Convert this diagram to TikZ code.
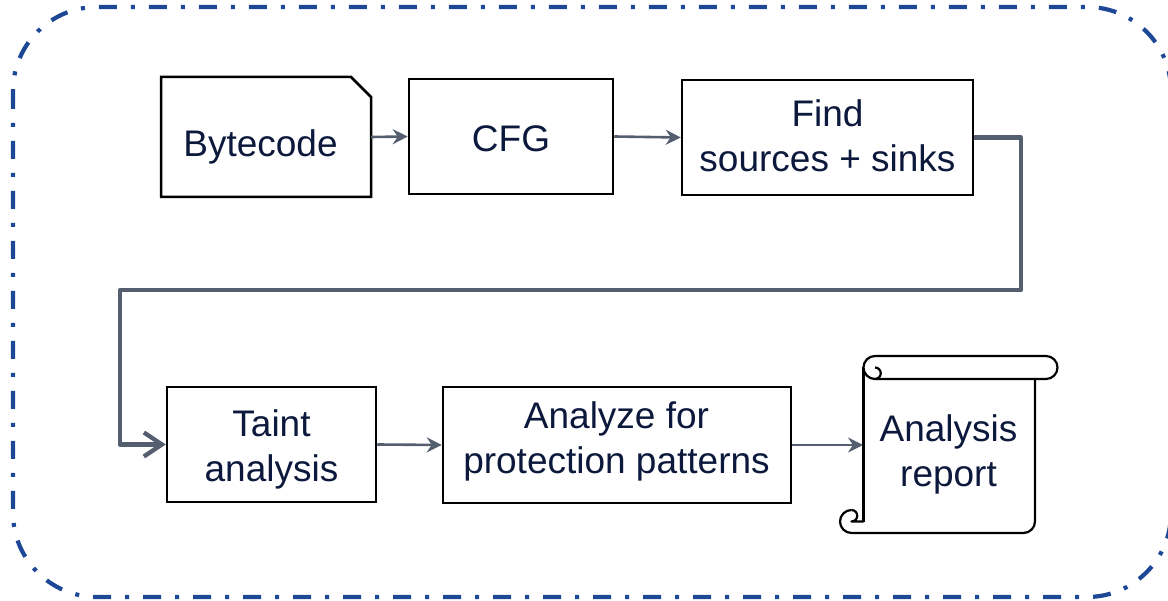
\documentclass[tikz,border=0pt]{standalone}
\usepackage{fontspec}
\setmainfont{Liberation Sans}
\usetikzlibrary{arrows.meta}
\definecolor{frameblue}{RGB}{28,72,150}
\definecolor{linkgray}{RGB}{84,94,110}
\definecolor{inkblue}{RGB}{12,25,60}

\begin{document}
\begin{tikzpicture}[x=1pt,y=1pt,
  box/.style={draw=black,line width=2.5pt,inner sep=0pt},
  shapeonly/.style={inner sep=0pt,outer sep=0pt},
  boxline/.style={draw=black,line width=2.5pt,line join=miter},
  scrollline/.style={draw=black,line width=2.2pt,line join=round},
  txt/.style={text=inkblue,font=\fontsize{37}{45}\selectfont,align=center,inner sep=0pt},
  link/.style={draw=linkgray,line width=2.6pt,-{Stealth[length=15pt,width=15pt,inset=5pt]}},
  biglink/.style={draw=linkgray,line width=4.3pt,line join=round,-{Straight Barb[length=18pt,width=24pt]}},
  frame/.style={draw=frameblue,line width=4.2pt,dash pattern=on 18pt off 14pt on 4pt off 14pt,rounded corners=84pt}]

\useasboundingbox (0,0) rectangle (1168,-601);

% dash-dot frame round the whole pipeline
\draw[frame] (13,-7) rectangle (1171,-597);

% first row
\node[shapeonly,minimum width=210pt,minimum height=120pt] (byte) at (266,-137) {};
\draw[boxline] (byte.south west) -- (byte.north west) -- ([xshift=-20pt]byte.north east)
  -- ([yshift=-20pt]byte.north east) -- (byte.south east) -- cycle;
\node[txt] (byte-t) at (260.5,-148) {\strut Bytecode};

\node[box,minimum width=204pt,minimum height=115pt] (cfg) at (511,-136.5) {};
\node[txt] (cfg-t) at (511,-143) {\strut CFG};

\node[box,minimum width=291pt,minimum height=115pt] (find) at (827.5,-137.5) {};
\node[txt] (find-t) at (827.5,-140.5) {\strut Find\\\strut sources + sinks};

% second row
\node[box,minimum width=209pt,minimum height=115pt] (taint) at (271.5,-444.5) {};
\node[txt] (taint-t) at (271.5,-450.5) {\strut Taint\\\strut analysis};

\node[box,minimum width=348pt,minimum height=116pt] (anl) at (617,-445) {};
\node[txt] (anl-t) at (616.5,-442.5) {\strut Analyze for\\\strut protection patterns};

% report scroll
\node[shapeonly,minimum width=172pt,minimum height=154pt] (rep) at (949,-456) {};
\draw[scrollline] (863.5,-367.5) -- (863.5,-521.5);
\draw[scrollline,fill=white] (875,-379) arc[start angle=270,end angle=90,radius=11.5]
  -- (1046,-356) arc[start angle=90,end angle=-90,radius=11.5] -- cycle;
\draw[scrollline] (875,-367.5) arc[start angle=90,end angle=-90,radius=5.75];
\draw[scrollline] (851.5,-510) arc[start angle=90,end angle=270,radius=11.5]
  -- (1023.5,-533) arc[start angle=-90,end angle=0,radius=11.5] -- (1035,-379);
\draw[scrollline] (851.5,-510) arc[start angle=90,end angle=-90,radius=5.75] -- (863.5,-521.5);
\node[txt] (rep-t) at (948.5,-455.5) {\strut Analysis\\\strut report};

% connectors
\coordinate (bend1) at (1021,-290);
\coordinate (bend2) at (120,-290);
\draw[link] (byte.east) -- (cfg.west);
\draw[link] (cfg.east) -- (find.west);
\draw[biglink] (find.east) -| (bend1) -- (bend2) |- (taint.west);
\draw[link] (taint.east) -- (anl.west);
\draw[link] (anl.east) -- (anl.east -| rep.west);
\end{tikzpicture}
\end{document}
